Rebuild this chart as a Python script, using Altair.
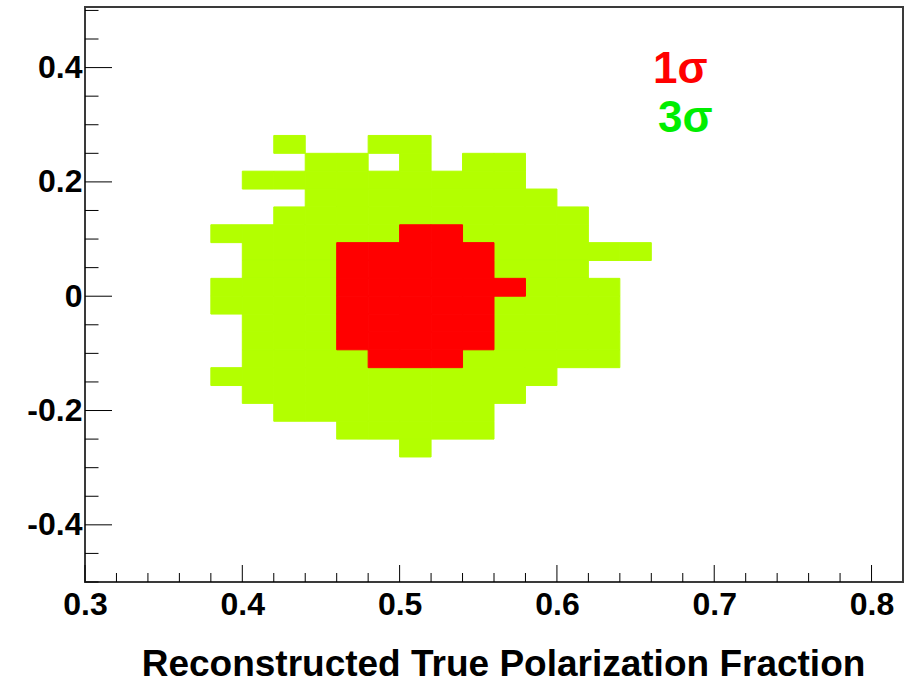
import altair as alt
import pandas as pd

# ---------------- data ----------------
X_BIN = 0.02          # bin width along x
Y_BIN = 1.0 / 32.0    # bin height along y

# 3-sigma (lime) runs: row index (y lower edge = row * Y_BIN), first and last bin left edge
GREEN_ROW = [8, 8, 7, 7, 7, 6, 5, 4, 3, 3, 2, 2, 1, 1, 0, 0, -1, -1,
             -2, -2, -3, -3, -4, -4, -5, -6, -7, -8, -9]
GREEN_X0 = [0.42, 0.48, 0.44, 0.50, 0.54, 0.40, 0.44, 0.42, 0.38, 0.54,
            0.40, 0.56, 0.40, 0.56, 0.38, 0.58, 0.38, 0.56,
            0.40, 0.56, 0.40, 0.56, 0.40, 0.54, 0.38, 0.40, 0.42, 0.46, 0.50]
GREEN_X1 = [0.42, 0.50, 0.46, 0.50, 0.56, 0.56, 0.58, 0.60, 0.48, 0.60,
            0.44, 0.64, 0.44, 0.60, 0.44, 0.62, 0.44, 0.62,
            0.44, 0.62, 0.44, 0.62, 0.46, 0.62, 0.58, 0.56, 0.54, 0.54, 0.50]

# 1-sigma (red) runs
RED_ROW = [3, 2, 1, 0, -1, -2, -3, -4]
RED_X0 = [0.50, 0.46, 0.46, 0.46, 0.46, 0.46, 0.46, 0.48]
RED_X1 = [0.52, 0.54, 0.54, 0.56, 0.54, 0.54, 0.54, 0.52]

LEVELS = ["3σ", "1σ"]
X_MAJOR = [0.3, 0.4, 0.5, 0.6, 0.7, 0.8]
X_MINOR = [0.32, 0.34, 0.36, 0.38, 0.42, 0.44, 0.46, 0.48, 0.52, 0.54, 0.56, 0.58,
           0.62, 0.64, 0.66, 0.68, 0.72, 0.74, 0.76, 0.78]
Y_MAJOR = [-0.4, -0.2, 0.0, 0.2, 0.4]
Y_MINOR = [-0.5, -0.45, -0.35, -0.3, -0.25, -0.15, -0.1, -0.05,
           0.05, 0.1, 0.15, 0.25, 0.3, 0.35, 0.45, 0.5]
X_TITLE = "Reconstructed True Polarization Fraction"

# ---------------- styling ----------------
GREEN = "#b3ff00"
RED = "#ff0000"
LEG_GREEN = "#00ee00"
FONT = "Liberation Sans"
W, H = 818, 575
PAD_L, PAD_T = 85, 7


def expand(rows, x0s, x1s, level):
    recs = []
    for r, a, b in zip(rows, x0s, x1s):
        n = int(round((b - a) / X_BIN)) + 1
        for k in range(n):
            x = round(a + k * X_BIN, 4)
            recs.append({"x": x, "x2": round(x + X_BIN, 4),
                         "y": r * Y_BIN, "y2": (r + 1) * Y_BIN, "level": level})
    return recs


cells = pd.DataFrame(expand(GREEN_ROW, GREEN_X0, GREEN_X1, LEVELS[0]) +
                     expand(RED_ROW, RED_X0, RED_X1, LEVELS[1]))

xs = alt.Scale(domain=[0.3, 0.82], nice=False, zero=False)
ys = alt.Scale(domain=[-0.5, 0.506], nice=False, zero=False)
cscale = alt.Scale(domain=LEVELS, range=[GREEN, RED])

lab_expr = ("datum.value < 0 ? '-' + format(-datum.value, '.1f') : "
            "(datum.value == 0 ? '0' : format(datum.value, '.1f'))")

x_axis = alt.Axis(values=X_MAJOR, labelExpr=lab_expr, ticks=False, domain=False, grid=False,
                  labelFont=FONT, labelFontSize=32, labelFontWeight="bold", labelColor="black",
                  labelPadding=7, labelBaseline="top", labelFlush=False,
                  title=X_TITLE, titleFont=FONT, titleFontSize=37, titleFontWeight="bold",
                  titleColor="black", titleX=418, titleY=93, titleAlign="center",
                  titleBaseline="alphabetic")
y_axis = alt.Axis(values=Y_MAJOR, labelExpr=lab_expr, ticks=False, domain=False, grid=False,
                  labelFont=FONT, labelFontSize=32, labelFontWeight="bold", labelColor="black",
                  labelPadding=3, labelBaseline="middle", labelFlush=False, title="")

rects = alt.Chart(cells).mark_rect(strokeWidth=1).encode(
    x=alt.X("x:Q", scale=xs, axis=x_axis),
    x2="x2:Q",
    y=alt.Y("y:Q", scale=ys, axis=y_axis),
    y2="y2:Q",
    fill=alt.Fill("level:N", scale=cscale, legend=None),
    stroke=alt.Stroke("level:N", scale=cscale, legend=None),
)


def xticks(vals, length):
    return alt.Chart(pd.DataFrame({"x": vals})).mark_rule(color="black", strokeWidth=1).encode(
        x=alt.X("x:Q", scale=xs, axis=x_axis),
        y=alt.value(H), y2=alt.value(H - length))


def yticks(vals, length):
    return alt.Chart(pd.DataFrame({"y": vals})).mark_rule(color="black", strokeWidth=1).encode(
        y=alt.Y("y:Q", scale=ys, axis=y_axis),
        x=alt.value(0), x2=alt.value(length))


def label(txt, color, px, py):
    return alt.Chart(pd.DataFrame({"t": [txt]})).mark_text(
        font=FONT, fontWeight="bold", fontSize=44, color=color,
        align="left", baseline="alphabetic").encode(
        text="t:N", x=alt.value(px), y=alt.value(py))


legend = [
    label(LEVELS[1], RED, 568, 75.7),
    label(LEVELS[0], LEG_GREEN, 573, 125),
]

chart = alt.layer(
    rects,
    xticks(X_MAJOR, 17), xticks(X_MINOR, 9),
    yticks(Y_MAJOR, 27), yticks(Y_MINOR, 13.5),
    *legend,
).properties(
    width=W, height=H,
    autosize=alt.AutoSizeParams(type="none"),
    padding={"left": PAD_L, "top": PAD_T, "right": 3, "bottom": 101},
    background="white",
).configure_view(stroke="#3a3a3a", strokeWidth=2)

chart.save("out.html", embed_options={"renderer": "svg", "actions": False})
